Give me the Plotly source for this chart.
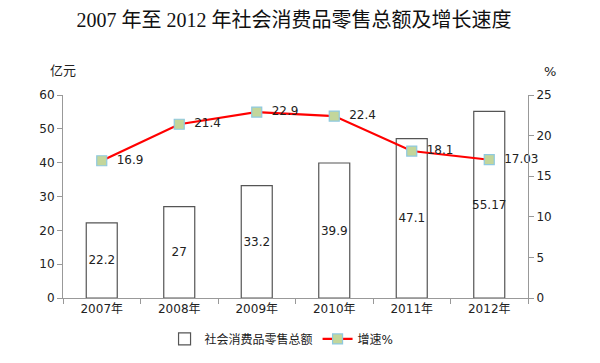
import plotly.graph_objects as go

years = ["2007年", "2008年", "2009年", "2010年", "2011年", "2012年"]
sales = [22.2, 27, 33.2, 39.9, 47.1, 55.17]
sales_labels = ["22.2", "27", "33.2", "39.9", "47.1", "55.17"]
growth = [16.9, 21.4, 22.9, 22.4, 18.1, 17.03]
growth_labels = ["16.9", "21.4", "22.9", "22.4", "18.1", "17.03"]

font_sans = "DejaVu Sans, Noto Sans CJK SC, sans-serif"

fig = go.Figure()
fig.add_trace(go.Bar(
    x=years, y=sales, name="社会消费品零售总额",
    marker=dict(color="white", line=dict(color="#555555", width=1.2)),
    width=0.4,
    text=sales_labels, textposition="inside", insidetextanchor="middle", textangle=0,
    constraintext="none",
    textfont=dict(family=font_sans, size=12, color="#222222"),
    cliponaxis=False,
))
fig.add_trace(go.Scatter(
    x=years, y=growth, name="增速%", yaxis="y2",
    mode="lines+markers+text",
    line=dict(color="#ff0000", width=2.2),
    marker=dict(symbol="square", size=10, color="#c3d69b", line=dict(color="#8ec9e0", width=1.2)),
    text=["  " + t for t in growth_labels], textposition="middle right",
    textfont=dict(family=font_sans, size=12, color="#222222"),
    cliponaxis=False,
))

axfont = dict(family=font_sans, size=12, color="#222222")
fig.update_layout(
    width=600, height=363,
    margin=dict(l=63, r=72, t=95, b=65, autoexpand=False),
    paper_bgcolor="white", plot_bgcolor="white",
    showlegend=True,
    legend=dict(orientation="h", x=0.47, xanchor="center", y=-0.13, yanchor="top",
                font=dict(family=font_sans, size=12, color="#222222"),
                tracegroupgap=0),
    title=dict(text="2007 年至 2012 年社会消费品零售总额及增长速度",
               x=0.49, xanchor="center", y=0.945, yanchor="middle",
               font=dict(family="Liberation Serif, Noto Sans CJK SC, serif", size=20, color="#111111")),
    xaxis=dict(showline=True, linecolor="#999999", linewidth=1, automargin=False,
               ticks="outside", tickcolor="#999999", ticklen=5,
               tickson="boundaries", showgrid=False, tickfont=axfont),
    yaxis=dict(range=[0, 60], dtick=10, showline=True, linecolor="#999999", linewidth=1, automargin=False,
               ticks="outside", tickcolor="#999999", ticklen=5, showgrid=False, zeroline=False,
               tickfont=axfont),
    yaxis2=dict(range=[0, 25], dtick=5, overlaying="y", side="right", automargin=False,
                showline=True, linecolor="#999999", linewidth=1,
                ticks="outside", tickcolor="#999999", ticklen=5, showgrid=False, zeroline=False,
                tickfont=axfont),
    annotations=[
        dict(text="亿元", xref="paper", yref="paper", x=0, y=1.0, xanchor="center", yanchor="bottom",
             yshift=14, showarrow=False, font=dict(family="Noto Sans CJK SC, sans-serif", size=13, color="#222222")),
        dict(text="%", xref="paper", yref="paper", x=1.0, y=1.0, xanchor="left", yanchor="bottom",
             xshift=14, yshift=14, showarrow=False, font=dict(family=font_sans, size=13, color="#222222")),
    ],
)

fig.write_html("out.html", config={"displayModeBar": False},
               post_script="document.body.style.margin='0';")
